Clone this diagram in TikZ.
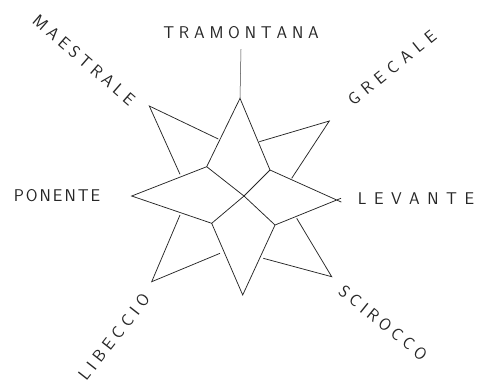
\documentclass[tikz,border=0pt]{standalone}
\usepackage{fontspec}
\usetikzlibrary{calc}
\tikzset{
  starline/.style={line width=0.75pt, draw=black!85, line join=miter},
  thinline/.style={line width=0.5pt, draw=black!75},
  windlabel/.style={inner sep=0pt, font=\sffamily\fontsize{17}{17}\selectfont, text=black!85}
}
\newlength{\lsgap}
\def\lsloop#1{\ifx#1\relax\unskip\else#1\hspace{\lsgap}\expandafter\lsloop\fi}
\newcommand{\spaced}[2]{\setlength{\lsgap}{#1pt}\lsloop#2\relax}
\begin{document}
\begin{tikzpicture}[x=1pt,y=-1pt]
\useasboundingbox (0,0) rectangle (478,384);
% big four-point star
\coordinate (N) at (240,98.3);
\coordinate (iNE) at (270,170);
\coordinate (E) at (336.7,200);
\coordinate (iSE) at (275,225);
\coordinate (S) at (242.7,295);
\coordinate (iSW) at (211.7,223.3);
\coordinate (W) at (131.7,196);
\coordinate (iNW) at (206.7,166.7);
\coordinate (C) at (244,196);
% diagonal points
\coordinate (NEa) at (259.3,141.7);
\coordinate (NE) at (329.3,121);
\coordinate (NEb) at (291.7,178.3);
\coordinate (NWa) at (218.3,139);
\coordinate (NW) at (149.3,106);
\coordinate (NWb) at (180,174.3);
\coordinate (SWa) at (180,215);
\coordinate (SW) at (151.7,281.7);
\coordinate (SWb) at (220,253.3);
\coordinate (SEa) at (263.3,258.3);
\coordinate (SE) at (331.7,276.7);
\coordinate (SEb) at (296.7,218.3);

\draw[starline] (N) -- (iNE) -- (E) -- (iSE) -- (S) -- (iSW) -- (W) -- (iNW) -- cycle;
\draw[starline] (E) -- ($(iNE)!1.07!(E)$);
\draw[starline] (E) -- ($(iSE)!1.07!(E)$);
\draw[starline] (iNW) -- (C) -- (iSE);
\draw[starline] (iNE) -- (C) -- (iSW);
\draw[starline] (NEa) -- (NE) -- (NEb);
\draw[starline] (NWa) -- (NW) -- (NWb);
\draw[starline] (SWa) -- (SW) -- (SWb);
\draw[starline] (SEa) -- (SE) -- (SEb);

% labels
\node[windlabel] (tram) at (241,33) {\spaced{4.8}{TRAMONTANA}};
\node[windlabel, rotate=-41] (maes) at (84,60) {\spaced{4.5}{MAESTRALE}};
\node[windlabel, rotate=39] (grec) at (392,68) {\spaced{6.5}{GRECALE}};
\node[windlabel] (pone) at (57,196) {\spaced{2}{PONENTE}};
\node[windlabel] (leva) at (416,199) {\spaced{7.5}{LEVANTE}};
\node[windlabel, rotate=52] (libe) at (114,337) {\spaced{5}{LIBECCIO}};
\node[windlabel, rotate=-39] (scir) at (383,323) {\spaced{4.3}{SCIROCCO}};

\draw[thinline] (N) -- (tram.south |- 0,49);
\end{tikzpicture}
\end{document}
